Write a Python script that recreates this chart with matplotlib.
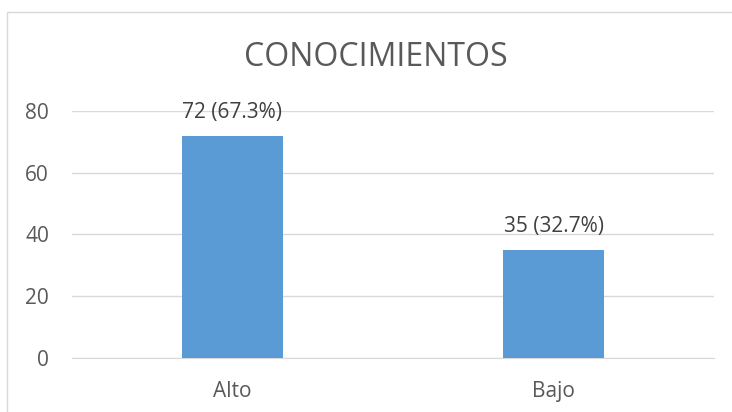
import matplotlib.pyplot as plt
from matplotlib.patches import Rectangle

categories = ["Alto", "Bajo"]
counts = [72, 35]
percents = [67.3, 32.7]
yticks = [0, 20, 40, 60, 80]

plt.rcParams['font.family'] = ['Open Sans', 'DejaVu Sans']

fig = plt.figure(figsize=(7.32, 4.12), dpi=100)
# plot area placed in pixels: left 72, right 714, top 111, bottom 357.7
ax = fig.add_axes([72 / 732, 1 - 357.7 / 412, 642 / 732, 246.7 / 412])

x = range(len(categories))
bars = ax.bar(x, counts, width=0.315, color="#5B9BD5", zorder=3)
for b, c, p in zip(bars, counts, percents):
    ax.annotate(f"{c} ({p}%)", (b.get_x() + b.get_width() / 2, c),
                xytext=(0, 17), textcoords="offset points",
                ha="center", va="center", fontsize=15, color="#404040")

ax.set_xlim(-0.5, 1.5)
ax.set_ylim(0, 80)
ax.set_yticks(yticks)
ax.set_xticks(list(x))
ax.set_xticklabels(categories)
ax.grid(axis="y", color="#D9D9D9", linewidth=1, zorder=0)
ax.tick_params(axis="both", length=0, labelsize=15, colors="#595959")
ax.tick_params(axis="y", pad=16.5)
ax.tick_params(axis="x", pad=17)
for s in ["top", "right", "left"]:
    ax.spines[s].set_visible(False)
ax.spines["bottom"].set_color("#D9D9D9")

fig.text(376 / 732, 1 - 57.5 / 412, "CONOCIMIENTOS",
         ha="center", va="center", fontsize=23, color="#595959")

fig.patches.append(Rectangle((7.5 / 732, -0.1), 1.2, 1 - 12 / 412 + 0.1,
                             transform=fig.transFigure, fill=False,
                             edgecolor="#D9D9D9", linewidth=1))

fig.savefig("out.png", dpi=100)
